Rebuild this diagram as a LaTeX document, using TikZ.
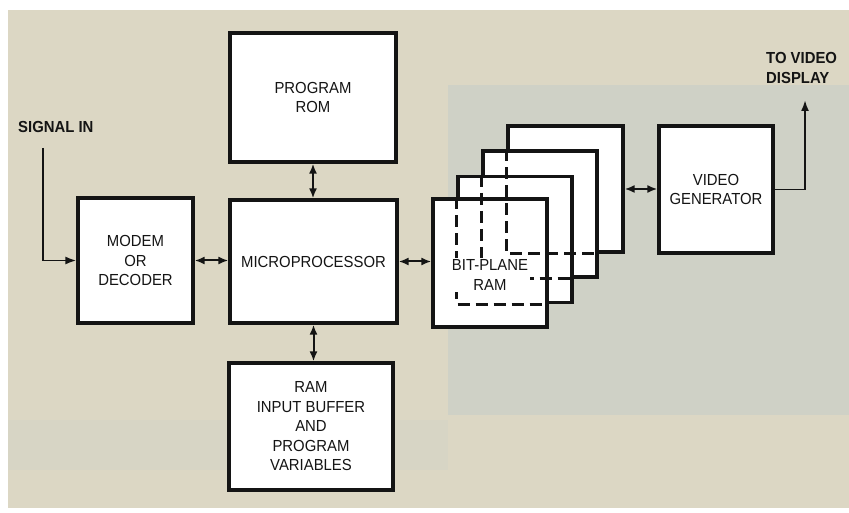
\documentclass[tikz,border=0pt]{standalone}
\usepackage{fontspec}
\setmainfont{Liberation Sans}[FakeStretch=0.93]
\usetikzlibrary{arrows.meta, positioning, calc}
\definecolor{c1}{HTML}{141414}
\definecolor{bgbeige}{HTML}{DCD7C4}
\definecolor{bggray}{HTML}{CFD1C6}

\begin{document}
\begin{tikzpicture}[
    x=1pt, y=-1pt,
    every node/.style={font=\fontsize{16}{19.5}\selectfont, text=c1},
    blk/.style={rectangle, draw=c1, fill=white, line width=3.2pt, align=center, inner sep=0pt},
    arr/.style={-{Latex[length=11pt, width=8pt]}, line width=1.9pt, color=c1},
    biarr/.style={{Latex[length=10pt, width=8pt]}-{Latex[length=10pt, width=8pt]}, line width=2pt, color=c1},
    hid/.style={c1, line width=3pt, dash pattern=on 12pt off 6pt},
    tag/.style={font=\bfseries\fontsize{16}{20}\selectfont, inner sep=0pt, align=left},
]
\useasboundingbox (0,0) rectangle (849,513);

% ============================================================ scanned page
\fill[white] (0,0) rectangle (849,513);
\fill[bgbeige] (8,10) rectangle (849,508);
\fill[bggray] (448,85) rectangle (849,415);
\fill[bggray!40!bgbeige] (8,420) rectangle (448,470);

% ============================================================ main blocks
\node[blk, minimum width=166, minimum height=129] (rom) at (313,97.5) {PROGRAM\\ROM};
\node[blk, minimum width=167, minimum height=123] (micro) at (313.5,261.5) {MICROPROCESSOR};
\node[blk, minimum width=115, minimum height=125] (modem) at (135.5,260.5) {MODEM\\OR\\DECODER};
\node[blk, minimum width=164, minimum height=127] (ram) at (311,426.5) {RAM\\INPUT BUFFER\\AND\\PROGRAM\\VARIABLES};
\node[blk, minimum width=114, minimum height=127] (video) at (716,189.5) {VIDEO\\GENERATOR};

% ============================================================ stacked bit planes, back to front
\node[blk, minimum width=115, minimum height=126] (p4) at (565.5,189) {};
\node[blk, minimum width=114, minimum height=126] (p3) at (540,214) {};
\node[blk, minimum width=114, minimum height=126] (p2) at (515,239.5) {};
\node[blk, minimum width=114, minimum height=128] (p1) at (490,263) {};

% hidden edges of the planes behind
\draw[hid] (p2.west |- p1.north) -- (p2.south west) -- (p2.south -| p1.east);
\draw[hid] (p3.west |- p2.north) -- (p3.south west) -- (p3.south -| p2.east);
\draw[hid] (p4.west |- p3.north) -- (p4.south west) -- (p4.south -| p3.east);

\node[fill=white, inner sep=1.5pt, align=center] (bpl) at (490,275) {BIT-PLANE\\RAM};

% ============================================================ connectors
\draw[biarr] (modem.east) -- (modem.east -| micro.west);
\draw[biarr] (micro.east) -- (micro.east -| p1.west);
\draw[biarr] (rom.south) -- (rom.south |- micro.north);
\draw[biarr] (micro.south) -- (micro.south |- ram.north);
\draw[biarr] (p4.east) -- (p4.east -| video.west);

% signal in / out
\node[tag, anchor=west] (sigl) at (18,127) {SIGNAL IN};
\coordinate (sig) at (43,148);
\draw[arr] (sig) |- (modem.west);

\node[tag, anchor=north west] (outl) at (766,52) {TO VIDEO\\DISPLAY};
\coordinate (out) at (805,100);
\draw[arr] (video.east) -| (out);

\end{tikzpicture}
\end{document}
